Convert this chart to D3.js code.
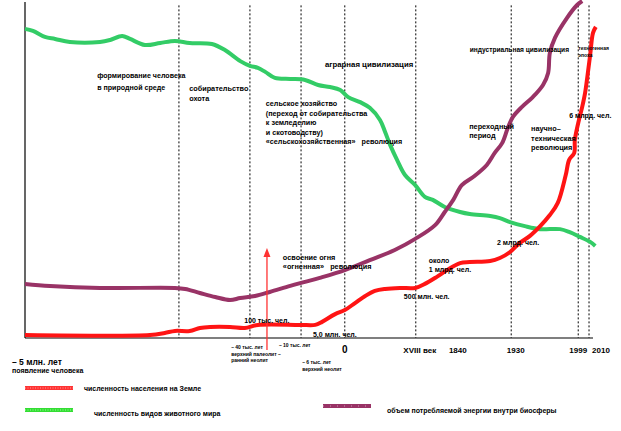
<!DOCTYPE html>
<html><head><meta charset="utf-8">
<script src="https://cdn.jsdelivr.net/npm/d3@7"></script>
<style>
body{margin:0;background:#fff}
svg{display:block}
text{font-family:"Liberation Sans",Arial,sans-serif;font-weight:bold;fill:#000}
</style>
</head><body><svg id="c" width="621" height="431"></svg>
<script>
// ---- data (x: relative timeline position 0..100, y: relative level 0..100) ----
const speciesTime   = [0,1.4,3.5,5.3,7.9,13.2,15.0,17.1,18.5,21.1,23.8,26.4,29.0,32.9,35.2,37.9,39.6,41.0,42.3,44.0,46.7,49.3,51.6,53.7,55.5,56.9,59.0,60.7,62.5,63.4,64.3,65.5,66.9,68.7,70.4,71.8,73.9,76.6,78.3,81.9,83.6,85.4,88.0,90.7,94.2,95.9,97.7,99.5,100.4];
const speciesValues = [92.0,91.4,89.6,89.0,88.1,88.1,88.7,89.9,89.0,87.2,87.8,88.4,87.8,87.5,85.7,82.4,81.0,80.4,79.2,77.4,77.1,76.8,75.3,74.7,73.8,71.7,70.2,68.5,64.9,61.3,57.4,53.0,48.5,45.5,42.0,41.1,39.0,37.5,36.9,36.3,35.7,34.5,33.3,32.4,32.4,31.5,30.1,28.6,27.4];

const populationTime   = [0,22.0,24.6,26.4,29.0,30.8,32.6,36.1,38.7,41.0,48.4,51.1,52.3,54.6,56.3,58.1,59.9,61.6,63.4,66.0,68.7,70.4,72.5,74.3,76.6,78.3,81.9,83.6,85.4,87.1,88.9,90.7,92.4,93.8,95.2,95.8,96.7,96.8,97.4,98.1,98.6,99.0,99.5,100.0,100.5];
const populationValues = [0.9,0.9,1.5,2.1,2.1,3.0,3.3,3.3,3.0,3.9,3.9,3.9,4.8,7.1,8.3,10.4,12.5,14.0,14.6,14.9,14.9,16.1,18.2,20.2,22.3,22.6,22.9,23.8,25.6,28.3,30.4,33.3,36.6,40.2,48.5,53.0,55.1,58.9,64.0,68.8,72.9,77.7,84.2,90.8,92.6];

const energyTime   = [0,4.4,13.2,26.4,28.2,30.8,33.5,36.1,37.9,40.5,43.1,46.7,49.3,51.9,56.3,60.7,65.1,68.7,72.2,73.9,75.4,76.9,78.9,81.3,82.7,84.0,85.0,85.9,87.5,89.4,91.2,92.1,92.4,93.3,95.4,97.2,98.1];
const energyValues = [16.1,15.5,14.9,14.9,14.6,13.4,12.2,11.3,11.9,12.5,13.7,15.5,16.7,17.9,20.2,23.2,26.2,29.5,33.6,37.5,41.1,45.5,47.9,51.5,55.1,58.0,62.5,65.8,68.8,71.7,75.3,78.9,84.8,89.3,95.2,99.1,100.3];

const epochLines = [27.1, 39.6, 48.6, 56.3, 68.8, 85.6, 97.4, 99.3];
const tickLabels = ["0", "XVIII век", "1840", "1930", "1999", "2010"];
const tickTimes  = [56.3, 69.5, 76.2, 86.4, 97.4, 101.4];

const fireTime = 42.6, fireTop = 26.2;

const seriesNames = ["численность населения на Земле", "численность видов животного мира", "объем потребляемой энергии внутри биосферы"];

// annotations: text lines, anchor in data units, font size, line height
const notes = [
  {lines:["формирование человека","в природной среде"], t:12.7, v:77.4, fs:7.1, lh:12},
  {lines:["собирательство","охота"], t:28.9, v:73.5, fs:7.3, lh:10},
  {lines:["сельское хозяйство","(переход от собирательства","к земледелию","и скотоводству)","«сельскохозяйственная»   революция"], t:42.4, v:69.0, fs:7.2, lh:9.5},
  {lines:["аграрная цивилизация"], t:52.8, v:80.7, fs:7.8, lh:9},
  {lines:["индустриальная цивилизация"], t:78.3, v:85.1, fs:6.6, lh:9},
  {lines:["техногенная","эпоха"], t:97.4, v:85.7, fs:5, lh:7},
  {lines:["6 млрд. чел."], t:95.8, v:65.5, fs:7, lh:9},
  {lines:["переходный","период"], t:78.2, v:62.2, fs:7.3, lh:9},
  {lines:["научно–","техническая","революция"], t:89.1, v:61.6, fs:7.3, lh:9.5},
  {lines:["2 млрд. чел."], t:83.1, v:27.7, fs:7, lh:9},
  {lines:["около","1 млрд. чел."], t:71.1, v:22.3, fs:7, lh:8.5},
  {lines:["500 млн. чел."], t:66.7, v:11.6, fs:7, lh:9},
  {lines:["5,0 млн. чел."], t:50.7, v:0.4, fs:7, lh:9},
  {lines:["100 тыс. чел."], t:38.6, v:4.5, fs:7, lh:9},
  {lines:["освоение огня","«огненная»   революция"], t:45.4, v:23.2, fs:7.3, lh:9},
  {lines:["– 40 тыс. лет","верхний палеолит –","ранний неолит"], t:36.3, v:-3.3, fs:5, lh:6.5},
  {lines:["– 10 тыс. лет"], t:44.7, v:-2.7, fs:5, lh:6.5},
  {lines:["– 6 тыс. лет","верхний неолит"], t:48.8, v:-7.7, fs:5, lh:7}
];

// ---- drawing ----
const svg = d3.select("#c");
const x = d3.scaleLinear().domain([0, 100]).range([25, 593]);
const y = d3.scaleLinear().domain([0, 100]).range([338, 2]);

// epoch dashed lines
svg.append("g").selectAll("line").data(epochLines).join("line")
  .attr("x1", d => x(d)).attr("x2", d => x(d))
  .attr("y1", y(99)).attr("y2", y(0))
  .attr("stroke", "#000").attr("stroke-width", 1).attr("stroke-dasharray", "2,2");

// axes lines
svg.append("line").attr("x1", x(0)).attr("x2", x(0)).attr("y1", y(100)).attr("y2", y(0))
  .attr("stroke", "#000").attr("stroke-width", 1.2);
svg.append("line").attr("x1", x(0)).attr("x2", x(100)).attr("y1", y(0)).attr("y2", y(0))
  .attr("stroke", "#000").attr("stroke-width", 1.2);

// tick labels
svg.append("g").selectAll("text").data(tickLabels).join("text")
  .attr("x", (d, i) => x(tickTimes[i])).attr("y", y(0) + 15)
  .attr("text-anchor", "middle")
  .attr("font-size", (d, i) => i === 0 ? 10 : 8)
  .text(d => d);

// curves
const line = d3.line().x(d => x(d[0])).y(d => y(d[1])).curve(d3.curveCatmullRom.alpha(0.5));
const series = [
  {t: speciesTime, v: speciesValues, color: "#33cc66"},
  {t: energyTime, v: energyValues, color: "#993366"},
  {t: populationTime, v: populationValues, color: "#ff1414"}
];
series.forEach(s => {
  svg.append("path").datum(s.t.map((t, i) => [t, s.v[i]]))
    .attr("d", line).attr("fill", "none")
    .attr("stroke", s.color).attr("stroke-width", 4).attr("stroke-linejoin", "round");
});

// fire arrow
svg.append("line").attr("x1", x(fireTime)).attr("x2", x(fireTime))
  .attr("y1", y(-3.6)).attr("y2", y(fireTop) + 6)
  .attr("stroke", "#ff3333").attr("stroke-width", 1.3);
svg.append("path")
  .attr("d", `M${x(fireTime)},${y(fireTop)-2} l-3.5,9 l7,0 z`)
  .attr("fill", "#ff3333");

// annotations
notes.forEach(n => {
  const t = svg.append("text").attr("x", x(n.t)).attr("y", y(n.v))
    .attr("font-size", n.fs).style("white-space", "pre");
  n.lines.forEach((l, i) => {
    t.append("tspan").attr("x", x(n.t)).attr("dy", i === 0 ? 0 : n.lh).text(l);
  });
});

// origin label
svg.append("text").attr("x", 12).attr("y", 365).attr("font-size", 8.5).text("– 5 млн. лет");
svg.append("text").attr("x", 12).attr("y", 373).attr("font-size", 7).text("появление человека");

// legend
const legend = [
  {x1: 25, x2: 73, y: 388, tx: 84, ty: 391, color: "#ff3333", dot: "#ff9999", name: seriesNames[0], gap: "1,1.5"},
  {x1: 25, x2: 73, y: 410, tx: 94, ty: 416, color: "#33dd33", dot: "#99ff99", name: seriesNames[1], gap: "1,1.5"},
  {x1: 323, x2: 371, y: 406, tx: 387, ty: 413, color: "#993366", dot: "#cc99b3", name: seriesNames[2], gap: "1,6"}
];
legend.forEach(l => {
  svg.append("line").attr("x1", l.x1).attr("x2", l.x2).attr("y1", l.y).attr("y2", l.y)
    .attr("stroke", l.color).attr("stroke-width", 4);
  svg.append("line").attr("x1", l.x1).attr("x2", l.x2).attr("y1", l.y).attr("y2", l.y)
    .attr("stroke", l.dot).attr("stroke-width", 1).attr("stroke-dasharray", l.gap);
  svg.append("text").attr("x", l.tx).attr("y", l.ty).attr("font-size", 7).text(l.name);
});
</script>
</body></html>
